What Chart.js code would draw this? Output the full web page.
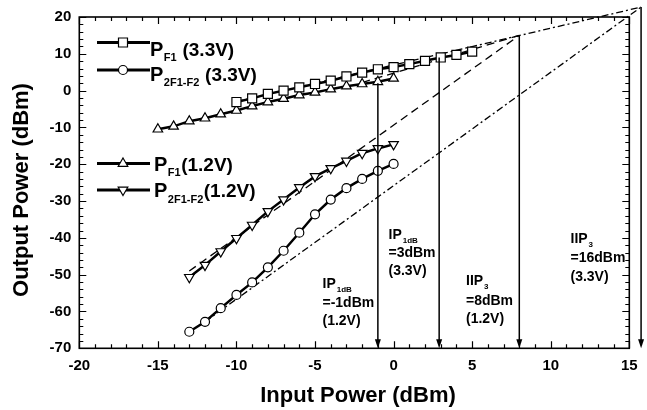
<!DOCTYPE html>
<html><head><meta charset="utf-8">
<script src="https://cdn.jsdelivr.net/npm/chart.js@4.4.0/dist/chart.umd.min.js"></script>
<style>html,body{margin:0;padding:0;background:#fff;}#wrap{width:647px;height:410px;}</style>
</head><body><div id="wrap"><canvas id="c" width="647" height="410"></canvas></div>
<script>
// ---- data ----
const sqX   = [-10,-9,-8,-7,-6,-5,-4,-3,-2,-1,0,1,2,3,4,5];
const sqY   = [-3.1,-2.1,-0.9,0.0,0.9,1.8,2.7,3.85,4.9,5.8,6.4,7.2,8.1,9.0,9.7,10.6];
const triUpX = [-15,-14,-13,-12,-11,-10,-9,-8,-7,-6,-5,-4,-3,-2,-1,0];
const triUpY = [-10.5,-9.7,-8.3,-7.5,-6.4,-5.4,-4.2,-3.1,-2.2,-1.2,-0.5,0.4,1.2,1.8,2.4,3.3];
const triDnX = [-13,-12,-11,-10,-9,-8,-7,-6,-5,-4,-3,-2,-1,0];
const triDnY = [-50.7,-47.4,-43.7,-40.1,-36.5,-32.8,-29.6,-26.3,-23.3,-21.1,-19.1,-17.0,-15.7,-14.6];
const circX = [-13,-12,-11,-10,-9,-8,-7,-6,-5,-4,-3,-2,-1,0];
const circY = [-65.5,-62.8,-59.1,-55.5,-52.1,-48.0,-43.5,-38.6,-33.6,-29.6,-26.5,-24.0,-21.8,-19.9];
// extrapolation lines
const fundExtX = [-10, 15.75];  const fundExtY = [-3.0, 22.7];     // dash-dot, shallow
const im3ExtX  = [-12, 15.75];  const im3ExtY  = [-62.8, 22.7];    // dash-dot, steep
const im3LoX   = [-13, 8];      const im3LoY   = [-49, 15];        // dashed, steep
const fundLoX  = [-2, 8];       const fundLoY  = [2.2, 15];        // dashed
// arrows
const arrowX   = [-1, 2.9, 8, 15.75];
const arrowTop = [2.0, 9.0, 15.0, 22.7];
const arrowBot = -70;
// axes
const xMin=-20, xMax=15;
const yMin=-70, yMax=20;
const xTickLabels=[-20,-15,-10,-5,0,5,10,15];
const yTickLabels=[-70,-60,-50,-40,-30,-20,-10,0,10,20];

const pts=(xs,ys)=>xs.map((v,i)=>({x:v,y:ys[i]}));
const FONT='"Liberation Sans", Arial, sans-serif';

function markerSet(style, rot, r){
  return {pointStyle:style, rotation:rot||0, pointRadius:r, pointHoverRadius:r,
    pointBackgroundColor:'#fff', pointBorderColor:'#000', pointBorderWidth:1.2,
    borderColor:'#000', borderWidth:2.5, showLine:true, fill:false, tension:0};
}
function extSet(xs,ys,dash){
  return {data:pts(xs,ys), showLine:true, borderColor:'#000', borderWidth:1.3,
    borderDash:dash, pointRadius:0, pointHoverRadius:0, fill:false, clip:false, order:5};
}

const deco = {
  id:'deco',
  afterDraw(chart){
    const {ctx, chartArea:a, scales:{x,y}} = chart;
    ctx.save();
    ctx.strokeStyle='#000'; ctx.fillStyle='#000';
    ctx.lineWidth=1.6;
    ctx.strokeRect(a.left,a.top,a.right-a.left,a.bottom-a.top);
    ctx.lineWidth=1.2;
    ctx.beginPath();
    for(let v=xMin; v<=xMax; v++){
      const p=Math.round(x.getPixelForValue(v))+0.5, L=(v%5===0)?7:4;
      ctx.moveTo(p,a.bottom); ctx.lineTo(p,a.bottom-L);
      ctx.moveTo(p,a.top); ctx.lineTo(p,a.top+L);
    }
    for(let v=yMin; v<=yMax; v+=2){
      const p=Math.round(y.getPixelForValue(v))+0.5, L=(v%10===0)?7:4;
      ctx.moveTo(a.left,p); ctx.lineTo(a.left+L,p);
      ctx.moveTo(a.right,p); ctx.lineTo(a.right-L,p);
    }
    ctx.stroke();
    ctx.lineWidth=1.5;
    arrowX.forEach((xv,i)=>{
      const px=x.getPixelForValue(xv), t=y.getPixelForValue(arrowTop[i]), b=y.getPixelForValue(arrowBot);
      ctx.beginPath(); ctx.moveTo(px,t); ctx.lineTo(px,b-6); ctx.stroke();
      ctx.beginPath(); ctx.moveTo(px-3,b-9); ctx.lineTo(px+3,b-9); ctx.lineTo(px,b); ctx.closePath(); ctx.fill();
    });
    const rows=[
      {ly:42.5, m:'rect',  tb:55.5, px:150, sub:'F1',     rest:' (3.3V)'},
      {ly:70,   m:'circle',tb:80.5, px:150, sub:'2F1-F2', rest:' (3.3V)'},
      {ly:163.5,m:'tri',   tb:170.5,px:154, sub:'F1',     rest:'(1.2V)'},
      {ly:190,  m:'tridn', tb:197, px:154, sub:'2F1-F2', rest:'(1.2V)'}
    ];
    rows.forEach(r=>{
      ctx.lineWidth=3;
      ctx.beginPath(); ctx.moveTo(97,r.ly); ctx.lineTo(150,r.ly); ctx.stroke();
      drawMarker(ctx,r.m,123,r.ly);
      ctx.textBaseline='alphabetic'; ctx.textAlign='left';
      ctx.font='bold 20px '+FONT; ctx.fillText('P',r.px,r.tb);
      let cx=r.px+ctx.measureText('P').width+0.5;
      ctx.font='bold 11px '+FONT;  ctx.fillText(r.sub,cx,r.tb+5.5);
      cx+=ctx.measureText(r.sub).width+0.5;
      ctx.font='bold 19px '+FONT; ctx.fillText(r.rest,cx,r.tb);
    });
    const notes=[
      {x:322.5, b:[288,306.5,325], main:'IP', sub:'1dB', l2:'=-1dBm', l3:'(1.2V)'},
      {x:388.5, b:[239,256.5,275], main:'IP', sub:'1dB', l2:'=3dBm',  l3:'(3.3V)'},
      {x:466,   b:[284.5,304.5,323], main:'IIP',sub:'3', l2:'=8dBm',  l3:'(1.2V)'},
      {x:570.5, b:[243,262,280.5], main:'IIP',sub:'3', l2:'=16dBm', l3:'(3.3V)'}
    ];
    notes.forEach(n=>{
      ctx.font='bold 14px '+FONT;
      ctx.fillText(n.main,n.x,n.b[0]);
      const w=ctx.measureText(n.main).width;
      ctx.font='bold 8px '+FONT; ctx.fillText(n.sub,n.x+w+1,n.b[0]+4);
      ctx.font='bold 14px '+FONT;
      ctx.fillText(n.l2,n.x,n.b[1]); ctx.fillText(n.l3,n.x,n.b[2]);
    });
    ctx.font='bold 22px '+FONT; ctx.textAlign='center';
    ctx.fillText('Input Power (dBm)', 358, 402);
    ctx.save(); ctx.translate(28,190); ctx.rotate(-Math.PI/2);
    ctx.fillText('Output Power (dBm)',0,0); ctx.restore();
    ctx.restore();
  }
};
function drawMarker(ctx,m,x,y){
  ctx.save(); ctx.lineWidth=1.2; ctx.fillStyle='#fff'; ctx.strokeStyle='#000';
  ctx.beginPath();
  if(m==='rect'){ ctx.rect(x-4.5,y-4.5,9,9); }
  else if(m==='circle'){ ctx.arc(x,y,4.5,0,Math.PI*2); }
  else if(m==='tri'){ ctx.moveTo(x,y-5.5); ctx.lineTo(x+4.8,y+2.8); ctx.lineTo(x-4.8,y+2.8); ctx.closePath(); }
  else { ctx.moveTo(x,y+5.5); ctx.lineTo(x+4.8,y-2.8); ctx.lineTo(x-4.8,y-2.8); ctx.closePath(); }
  ctx.fill(); ctx.stroke(); ctx.restore();
}

new Chart(document.getElementById('c'),{
  type:'scatter',
  data:{datasets:[
    Object.assign({data:pts(sqX,sqY), order:1}, markerSet('rect',0,6.4)),
    Object.assign({data:pts(triUpX,triUpY), order:1}, markerSet('triangle',0,5.5)),
    Object.assign({data:pts(triDnX,triDnY), order:1}, markerSet('triangle',180,5.5)),
    Object.assign({data:pts(circX,circY), order:1}, markerSet('circle',0,4.5)),
    extSet(fundExtX,fundExtY,[7,3,2,3]),
    extSet(im3ExtX,im3ExtY,[7,3,2,3]),
    extSet(im3LoX,im3LoY,[8,5]),
    extSet(fundLoX,fundLoY,[8,5])
  ]},
  options:{
    responsive:false, animation:false, devicePixelRatio:1,
    layout:{padding:{left:0,top:14,right:17.7,bottom:0}},
    plugins:{legend:{display:false}, tooltip:{enabled:false}},
    scales:{
      x:{type:'linear', min:xMin, max:xMax,
        afterFit:s=>{s.height=61.7;},
        afterBuildTicks:s=>{s.ticks=xTickLabels.map(v=>({value:v}));},
        grid:{display:false, drawTicks:false}, border:{display:false},
        ticks:{color:'#000', padding:9, font:{family:FONT, weight:'bold', size:15}, maxRotation:0}},
      y:{type:'linear', min:yMin, max:yMax,
        afterFit:s=>{s.width=79.3;},
        afterBuildTicks:s=>{s.ticks=yTickLabels.map(v=>({value:v}));},
        grid:{display:false, drawTicks:false}, border:{display:false},
        ticks:{color:'#000', padding:8, font:{family:FONT, weight:'bold', size:15}}}
    }
  },
  plugins:[deco]
});
</script></body></html>
